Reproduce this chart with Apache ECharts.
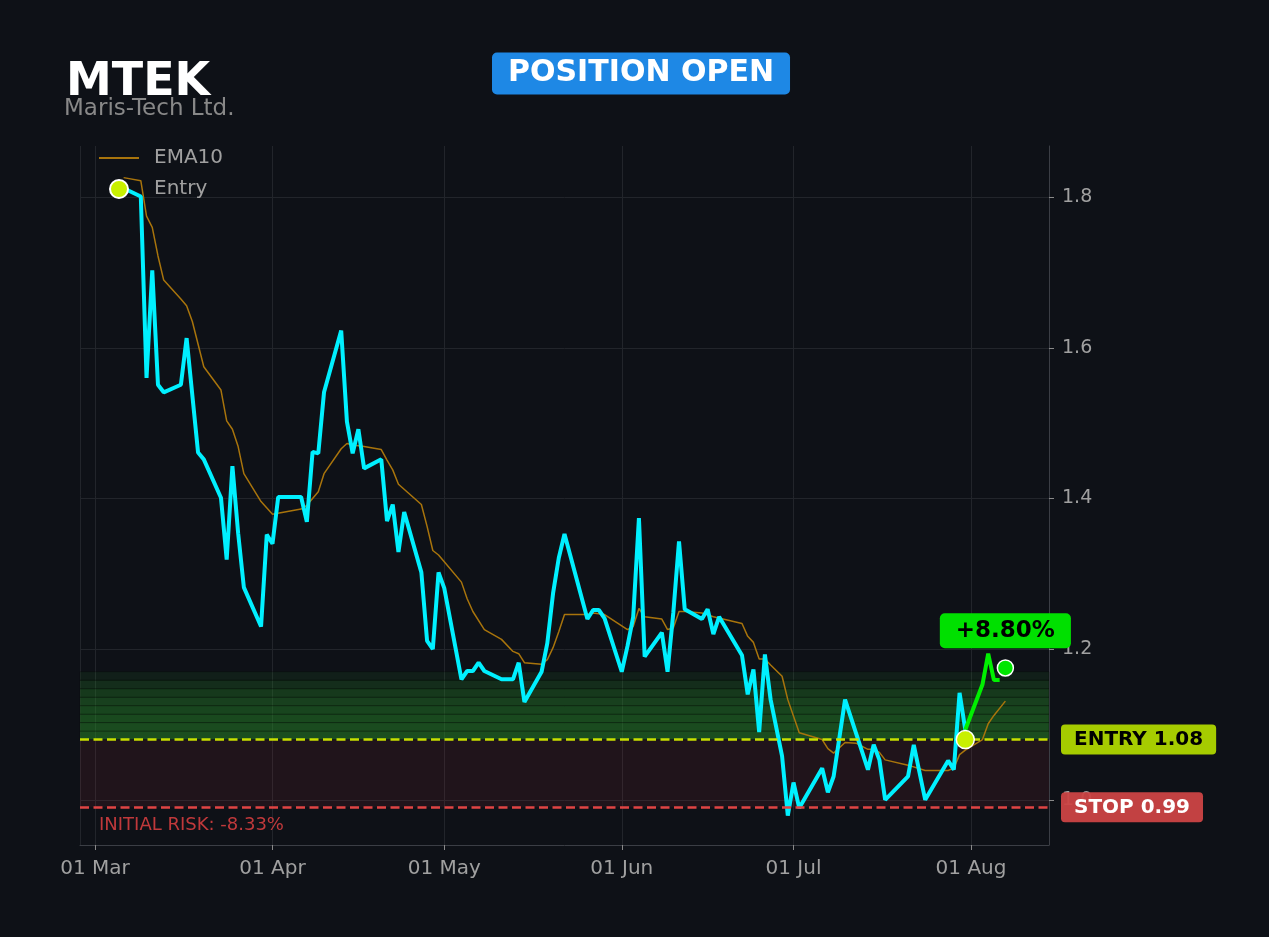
<!DOCTYPE html>
<html>
<head>
<meta charset="utf-8">
<title>MTEK position</title>
<script src="https://cdn.jsdelivr.net/npm/echarts@6/dist/echarts.min.js"></script>
<style>
  html, body { margin: 0; padding: 0; background: #0e1117; }
  #chart { width: 1269px; height: 937px; }
</style>
</head>
<body>
<div id="chart"></div>
<script>
// price before the entry (cyan)
const priceDates = [
  '2025-03-06','2025-03-09','2025-03-10','2025-03-11','2025-03-12','2025-03-13','2025-03-16','2025-03-17','2025-03-19','2025-03-20','2025-03-23','2025-03-24','2025-03-25','2025-03-26','2025-03-27','2025-03-30','2025-03-31',
  '2025-04-01','2025-04-02','2025-04-06','2025-04-07','2025-04-08','2025-04-09','2025-04-10','2025-04-13','2025-04-14','2025-04-15','2025-04-16','2025-04-17','2025-04-20','2025-04-21','2025-04-22','2025-04-23','2025-04-24','2025-04-27','2025-04-28','2025-04-29','2025-04-30',
  '2025-05-01','2025-05-04','2025-05-05','2025-05-06','2025-05-07','2025-05-08','2025-05-11','2025-05-13','2025-05-14','2025-05-15','2025-05-18','2025-05-19','2025-05-20','2025-05-21','2025-05-22','2025-05-26','2025-05-27','2025-05-28','2025-05-29',
  '2025-06-01','2025-06-02','2025-06-03','2025-06-04','2025-06-05','2025-06-08','2025-06-09','2025-06-10','2025-06-11','2025-06-12','2025-06-15','2025-06-16','2025-06-17','2025-06-18','2025-06-22','2025-06-23','2025-06-24','2025-06-25','2025-06-26','2025-06-27','2025-06-29','2025-06-30',
  '2025-07-01','2025-07-02','2025-07-06','2025-07-07','2025-07-08','2025-07-10','2025-07-14','2025-07-15','2025-07-16','2025-07-17','2025-07-21','2025-07-22','2025-07-24','2025-07-28','2025-07-29','2025-07-30','2025-07-31'
];
const priceValues = [
  1.812,1.801,1.560,1.703,1.551,1.541,1.551,1.613,1.461,1.452,1.401,1.319,1.443,1.354,1.282,1.230,1.352,
  1.340,1.402,1.402,1.369,1.462,1.460,1.541,1.623,1.502,1.460,1.492,1.440,1.452,1.370,1.392,1.329,1.382,1.302,1.211,1.200,1.302,
  1.281,1.160,1.171,1.171,1.182,1.171,1.160,1.160,1.182,1.130,1.170,1.208,1.274,1.321,1.353,1.240,1.252,1.252,1.241,
  1.170,1.204,1.243,1.374,1.190,1.222,1.170,1.248,1.343,1.253,1.240,1.253,1.220,1.243,1.192,1.140,1.173,1.090,1.193,1.133,1.058,0.979,
  1.023,0.989,1.042,1.010,1.031,1.133,1.040,1.073,1.053,1.000,1.031,1.073,1.000,1.052,1.040,1.142,1.093
];

// price since the entry (green)
const openDates = ['2025-07-31','2025-08-03','2025-08-04','2025-08-05','2025-08-06'];
const openValues = [1.093,1.153,1.194,1.159,1.159];

// EMA10
const emaDates = [
  '2025-03-06','2025-03-09','2025-03-10','2025-03-11','2025-03-12','2025-03-13','2025-03-16','2025-03-17','2025-03-18','2025-03-20','2025-03-23','2025-03-24','2025-03-25','2025-03-26','2025-03-27','2025-03-30',
  '2025-04-01','2025-04-06','2025-04-07','2025-04-09','2025-04-10','2025-04-13','2025-04-14','2025-04-15','2025-04-17','2025-04-20','2025-04-21','2025-04-22','2025-04-23','2025-04-27','2025-04-28','2025-04-29','2025-04-30',
  '2025-05-01','2025-05-04','2025-05-05','2025-05-06','2025-05-08','2025-05-11','2025-05-13','2025-05-14','2025-05-15','2025-05-18','2025-05-19','2025-05-20','2025-05-21','2025-05-22','2025-05-26','2025-05-27','2025-05-29',
  '2025-06-01','2025-06-02','2025-06-03','2025-06-04','2025-06-05','2025-06-08','2025-06-09','2025-06-10','2025-06-11','2025-06-12','2025-06-15','2025-06-17','2025-06-22','2025-06-23','2025-06-24','2025-06-25','2025-06-26','2025-06-27','2025-06-29','2025-06-30',
  '2025-07-02','2025-07-06','2025-07-07','2025-07-08','2025-07-10','2025-07-12','2025-07-14','2025-07-15','2025-07-16','2025-07-17','2025-07-21','2025-07-24','2025-07-28','2025-07-29','2025-07-30','2025-07-31',
  '2025-08-03','2025-08-04','2025-08-05','2025-08-07'
];
const emaValues = [
  1.826,1.822,1.775,1.760,1.722,1.690,1.665,1.656,1.635,1.575,1.544,1.503,1.492,1.469,1.433,1.396,
  1.379,1.386,1.391,1.409,1.433,1.466,1.473,1.471,1.469,1.465,1.451,1.438,1.419,1.392,1.363,1.331,1.325,
  1.316,1.289,1.267,1.250,1.226,1.213,1.197,1.194,1.182,1.180,1.186,1.202,1.223,1.246,1.246,1.248,1.246,
  1.231,1.226,1.230,1.254,1.243,1.240,1.226,1.228,1.250,1.250,1.248,1.243,1.234,1.217,1.209,1.187,1.187,1.179,1.164,1.133,
  1.089,1.080,1.068,1.062,1.076,1.075,1.067,1.067,1.063,1.053,1.046,1.039,1.039,1.042,1.060,1.066,
  1.080,1.101,1.112,1.131
];

// trade levels
const entryDate = '2025-07-31';
const entryPrice = 1.08;
const stopPrice = 0.99;
const lastDate = '2025-08-07';
const lastPrice = 1.175;
const targetZoneTop = 1.17;

const FONT = 'DejaVu Sans';
const MONTHS = ['Jan','Feb','Mar','Apr','May','Jun','Jul','Aug','Sep','Oct','Nov','Dec'];
const DAY = 86400000;

const zip = (xs, ys) => xs.map((x, i) => [x, ys[i]]);

const gainPct = (lastPrice / entryPrice - 1) * 100;
const riskPct = (stopPrice / entryPrice - 1) * 100;

// green zone above the entry, drawn as stacked fading bands
const bandAlpha = [0.5, 0.48, 0.46, 0.43, 0.39, 0.33, 0.24, 0.12];
const bandStep = (targetZoneTop - entryPrice) / bandAlpha.length;
const zoneBands = bandAlpha.map((a, i) => [
  { yAxis: entryPrice + i * bandStep,
    itemStyle: { color: 'rgba(40,140,40,' + a + ')', borderColor: 'rgba(0,0,0,0.25)', borderWidth: 1 } },
  { yAxis: entryPrice + (i + 1) * bandStep }
]);

const chart = echarts.init(document.getElementById('chart'));

const option = {
  backgroundColor: '#0e1117',
  animation: false,
  textStyle: { fontFamily: FONT },
  title: [
    { text: 'MTEK', left: 66, top: 60, padding: 0,
      textStyle: { color: '#ffffff', fontSize: 46, fontWeight: 'bold', lineHeight: 46, fontFamily: FONT } },
    { text: 'Maris-Tech Ltd.', left: 64, top: 98, padding: 0,
      textStyle: { color: '#888888', fontSize: 23, fontWeight: 'normal', lineHeight: 23, fontFamily: FONT } },
    { text: 'POSITION OPEN', left: 492, top: 53, padding: [6, 16],
      backgroundColor: '#1e88e5', borderRadius: 5,
      textStyle: { color: '#ffffff', fontSize: 30, fontWeight: 'bold', lineHeight: 29, fontFamily: FONT } }
  ],
  legend: {
    data: [
      { name: 'EMA10', itemStyle: { opacity: 0 } },
      'Entry'
    ],
    orient: 'vertical',
    left: 98, top: 148, padding: 0,
    itemWidth: 40, itemHeight: 18, itemGap: 11,
    textStyle: { color: '#a0a0a0', fontSize: 20, padding: [0, 0, 0, 10] }
  },
  grid: { left: 80, right: 220, top: 146, bottom: 92, containLabel: false, outerBoundsMode: 'none' },
  xAxis: {
    type: 'time',
    min: new Date(2025, 2, 1).getTime() - 2.62 * DAY,
    max: new Date(2025, 7, 1).getTime() + 13.62 * DAY,
    minInterval: 28 * DAY,
    axisLine: { show: true, lineStyle: { color: '#3b3e45' } },
    axisTick: { show: true, length: 5, lineStyle: { color: '#8a8a8a' } },
    axisLabel: {
      color: '#a0a0a0', fontSize: 20, margin: 14, fontFamily: FONT,
      formatter: v => {
        const d = new Date(v);
        return String(d.getDate()).padStart(2, '0') + ' ' + MONTHS[d.getMonth()];
      }
    },
    splitLine: { show: true, lineStyle: { color: '#22252b' } }
  },
  yAxis: {
    type: 'value',
    position: 'right',
    min: 0.94, max: 1.868,
    axisLine: { show: true, lineStyle: { color: '#3b3e45' } },
    axisTick: { show: true, length: 5, lineStyle: { color: '#8a8a8a' } },
    axisLabel: {
      color: '#a0a0a0', fontSize: 19, margin: 13, fontFamily: FONT,
      showMinLabel: false, showMaxLabel: false,
      formatter: v => v.toFixed(1)
    },
    splitLine: { show: true, showMinLine: false, showMaxLine: false, lineStyle: { color: '#22252b' } }
  },
  series: [
    {
      name: 'EMA10',
      type: 'line',
      z: 2,
      data: zip(emaDates, emaValues),
      symbol: 'none',
      color: '#a8740c',
      lineStyle: { color: '#a8740c', width: 1.5 },
      markArea: {
        silent: true,
        data: [
          [{ yAxis: stopPrice, itemStyle: { color: 'rgba(200,50,70,0.1)' } }, { yAxis: entryPrice }]
        ].concat(zoneBands)
      },
      markLine: {
        silent: true,
        symbol: ['none', 'none'],
        data: [
          { yAxis: entryPrice,
            lineStyle: { color: '#c8e000', type: [9, 4.5], width: 2.5 },
            label: { show: true, position: 'end', distance: 12,
              formatter: 'ENTRY ' + entryPrice.toFixed(2),
              backgroundColor: '#a6cc00', color: '#000000', fontWeight: 'bold',
              fontSize: 20, fontFamily: FONT, padding: [5, 13], borderRadius: 4 } },
          { yAxis: stopPrice,
            lineStyle: { color: '#e04444', type: [9, 4.5], width: 2.5 },
            label: { show: true, position: 'end', distance: 12,
              formatter: 'STOP ' + stopPrice.toFixed(2),
              backgroundColor: 'rgba(204,68,68,0.95)', color: '#ffffff', fontWeight: 'bold',
              fontSize: 20, fontFamily: FONT, padding: [5, 13], borderRadius: 4 } },
          { yAxis: stopPrice,
            lineStyle: { color: 'rgba(0,0,0,0)', width: 0 },
            label: { show: true, position: 'insideStartBottom', distance: 9,
              formatter: 'INITIAL RISK: ' + riskPct.toFixed(2) + '%',
              color: '#c0393b', fontSize: 18, fontFamily: FONT, padding: [0, 0, 0, 10] } }
        ]
      }
    },
    {
      name: 'Price',
      type: 'line',
      z: 3,
      data: zip(priceDates, priceValues),
      symbol: 'none',
      lineStyle: { color: '#00f0ff', width: 4 }
    },
    {
      name: 'Open',
      type: 'line',
      z: 3,
      data: zip(openDates, openValues),
      symbol: 'none',
      lineStyle: { color: '#00f000', width: 4 }
    },
    {
      name: 'Entry',
      type: 'scatter',
      z: 5,
      data: [[entryDate, entryPrice]],
      symbolSize: 18,
      itemStyle: { color: '#c8f000', borderColor: '#ffffff', borderWidth: 1.5, opacity: 1 }
    },
    {
      name: 'Current',
      type: 'scatter',
      z: 5,
      data: [[lastDate, lastPrice]],
      symbolSize: 16,
      itemStyle: { color: '#00e600', borderColor: '#ffffff', borderWidth: 1.5, opacity: 1 },
      label: {
        show: true, position: 'top', distance: 11,
        formatter: '+' + gainPct.toFixed(2) + '%',
        backgroundColor: '#00e000', color: '#000000', fontWeight: 'bold',
        fontSize: 23, fontFamily: FONT, padding: [6, 16], borderRadius: 5
      }
    }
  ]
};

chart.setOption(option);
</script>
</body>
</html>
